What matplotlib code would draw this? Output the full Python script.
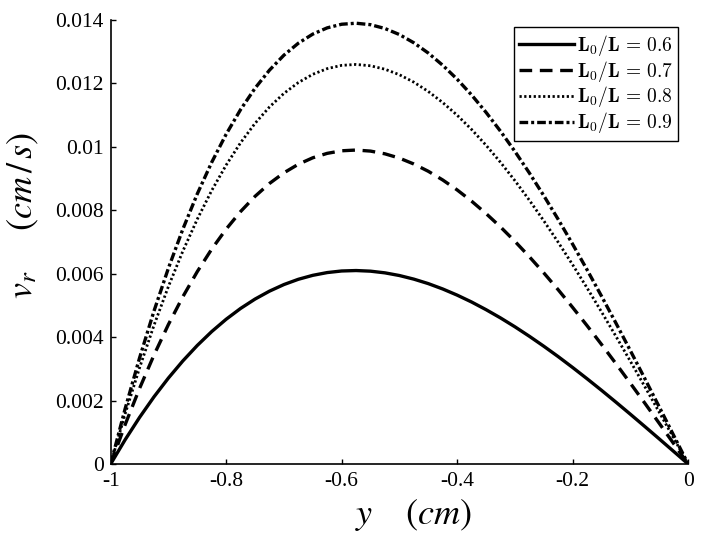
import numpy as np
import matplotlib
matplotlib.use("Agg")
import matplotlib.pyplot as plt
from matplotlib.font_manager import FontProperties

plt.rcParams['font.family'] = ['Liberation Serif', 'DejaVu Serif']
plt.rcParams['mathtext.fontset'] = 'stix'

# position across the gap (cm)
y_pos = np.linspace(-1.0, 0.0, 41)

# radial velocity (cm/s)
v_06 = [0, 0.000763, 0.001468, 0.002117, 0.002710, 0.003250, 0.003738, 0.004176, 0.004564,
        0.004905, 0.005200, 0.005450, 0.005658, 0.005824, 0.005949, 0.006036, 0.006086, 0.006100,
        0.006080, 0.006027, 0.005943, 0.005829, 0.005688, 0.005519, 0.005325, 0.005108, 0.004867,
        0.004607, 0.004327, 0.004028, 0.003714, 0.003386, 0.003043, 0.002688, 0.002324, 0.001950,
        0.001569, 0.001182, 0.000791, 0.000396, 0]
v_07 = [0, 0.001239, 0.002382, 0.003435, 0.004399, 0.005275, 0.006067, 0.006777, 0.007407,
        0.007961, 0.008440, 0.008846, 0.009182, 0.009452, 0.009656, 0.009796, 0.009877, 0.009900,
        0.009867, 0.009781, 0.009646, 0.009460, 0.009231, 0.008957, 0.008643, 0.008289, 0.007899,
        0.007477, 0.007022, 0.006538, 0.006028, 0.005495, 0.004938, 0.004363, 0.003771, 0.003165,
        0.002546, 0.001919, 0.001283, 0.000643, 0]
v_08 = [0, 0.001576, 0.003032, 0.004372, 0.005598, 0.006713, 0.007721, 0.008625, 0.009427,
        0.010132, 0.010742, 0.011258, 0.011687, 0.012029, 0.012289, 0.012468, 0.012571, 0.012600,
        0.012558, 0.012449, 0.012276, 0.012041, 0.011748, 0.011399, 0.011000, 0.010550, 0.010054,
        0.009516, 0.008937, 0.008321, 0.007672, 0.006993, 0.006285, 0.005553, 0.004799, 0.004028,
        0.003241, 0.002442, 0.001633, 0.000818, 0]
v_09 = [0, 0.001739, 0.003344, 0.004823, 0.006176, 0.007406, 0.008518, 0.009515, 0.010400,
        0.011177, 0.011850, 0.012420, 0.012892, 0.013270, 0.013557, 0.013754, 0.013868, 0.013900,
        0.013854, 0.013733, 0.013543, 0.013283, 0.012960, 0.012575, 0.012135, 0.011639, 0.011091,
        0.010497, 0.009859, 0.009180, 0.008464, 0.007715, 0.006933, 0.006126, 0.005295, 0.004444,
        0.003575, 0.002694, 0.001801, 0.000902, 0]

labels = [r'$\mathbf{L_0/L\,=\,0.6}$', r'$\mathbf{L_0/L\,=\,0.7}$',
          r'$\mathbf{L_0/L\,=\,0.8}$', r'$\mathbf{L_0/L\,=\,0.9}$']
x_ticks = [-1, -0.8, -0.6, -0.4, -0.2, 0]
x_ticklabels = ['-1', '-0.8', '-0.6', '-0.4', '-0.2', '0']
y_ticks = [0, 0.002, 0.004, 0.006, 0.008, 0.01, 0.012, 0.014]
y_ticklabels = ['0', '0.002', '0.004', '0.006', '0.008', '0.01', '0.012', '0.014']

fig = plt.figure(figsize=(7.05, 5.42), dpi=100)
ax = fig.add_axes([0.157, 0.144, 0.819, 0.819])

ax.plot(y_pos, v_06, color='black', lw=2.4, linestyle='-', label=labels[0])
ax.plot(y_pos, v_07, color='black', lw=2.4, linestyle=(0, (3.8, 2.3)), label=labels[1])
ax.plot(y_pos, v_08, color='black', lw=2.0, linestyle=(0, (0.8, 0.9)), label=labels[2])
ax.plot(y_pos, v_09, color='black', lw=2.4, linestyle=(0, (2.6, 0.9, 0.9, 0.9)), label=labels[3])

ax.set_xlim(-1, 0)
ax.set_ylim(0, 0.014)
ax.set_xticks(x_ticks)
ax.set_xticklabels(x_ticklabels)
ax.set_yticks(y_ticks)
ax.set_yticklabels(y_ticklabels)
ax.tick_params(direction='in', length=3.5, width=1, labelsize=15.5, pad=5)
ax.tick_params(axis='x', pad=6)
for s in ['top', 'right']:
    ax.spines[s].set_visible(False)
for s in ['left', 'bottom']:
    ax.spines[s].set_linewidth(1.2)

ax.set_xlabel(r'$y\quad\;(cm)$', fontsize=26)
ax.xaxis.set_label_coords(0.525, -0.075)
ax.set_ylabel(r'$v_r\quad\;\;(cm\,/\,s)$', fontsize=26)
ax.yaxis.set_label_coords(-0.12, 0.56)

leg_font = FontProperties(family='DejaVu Serif', size=14, math_fontfamily='cm')
leg = ax.legend(loc='upper right', bbox_to_anchor=(0.962, 0.950), bbox_transform=fig.transFigure,
                borderaxespad=0, prop=leg_font, handlelength=2.8, handletextpad=0.15,
                labelspacing=0.05, borderpad=0.28, fancybox=False, framealpha=1,
                edgecolor='black')
leg.get_frame().set_linewidth(1.0)

fig.savefig('out.png', dpi=100)
